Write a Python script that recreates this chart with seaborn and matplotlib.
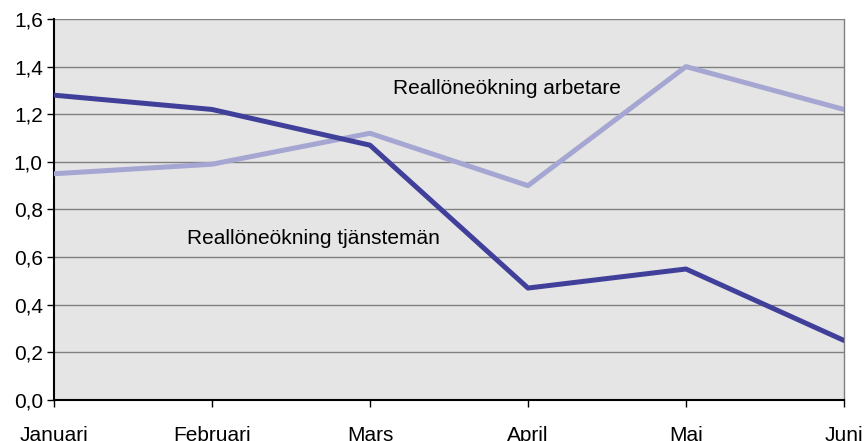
import pandas as pd
import matplotlib.pyplot as plt
import seaborn as sns

months = ["Januari", "Februari", "Mars", "April", "Maj", "Juni"]
tjanstemán = [1.28, 1.22, 1.07, 0.47, 0.55, 0.25]
arbetare = [0.95, 0.99, 1.12, 0.90, 1.40, 1.22]

df = pd.DataFrame({
    "Månad": months * 2,
    "Värde": tjanstemán + arbetare,
    "Serie": ["Reallöneökning tjänstemän"] * 6 + ["Reallöneökning arbetare"] * 6,
})
df["pos"] = list(range(6)) * 2

sns.set_style("white")
plt.rcParams["font.family"] = ["Liberation Sans", "DejaVu Sans"]
plt.rcParams["text.color"] = "black"
plt.rcParams["xtick.color"] = "black"
plt.rcParams["ytick.color"] = "black"

fig = plt.figure(figsize=(8.65, 4.41), dpi=100)
ax = fig.add_axes([0.0624, 0.093, 0.9133, 0.864])
ax.set_facecolor("#e5e5e5")

sns.lineplot(
    data=df, x="pos", y="Värde", hue="Serie",
    palette={"Reallöneökning tjänstemän": "#40409a", "Reallöneökning arbetare": "#a6a6d2"},
    hue_order=["Reallöneökning arbetare", "Reallöneökning tjänstemän"],
    linewidth=3.6, legend=False, ax=ax, zorder=3,
)

ax.set_xlim(0, 5)
ax.set_ylim(0, 1.6)
yticks = [i * 0.2 for i in range(9)]
ax.set_yticks(yticks)
ax.set_yticklabels([f"{v:.1f}".replace(".", ",") for v in yticks], fontsize=15)
ax.set_xticks(range(6))
ax.set_xticklabels(months, fontsize=15)
ax.yaxis.grid(True, color="#808080", linewidth=1)
ax.set_axisbelow(True)
ax.tick_params(axis="both", direction="out", length=5, width=1, left=True, bottom=True)
ax.tick_params(axis="x", pad=14)
ax.tick_params(axis="y", pad=3)
ax.set_xlabel("")
ax.set_ylabel("")

for side in ["left", "bottom"]:
    ax.spines[side].set_color("black")
    ax.spines[side].set_linewidth(1.5)
ax.spines["top"].set_visible(False)
ax.spines["right"].set_color("#808080")
ax.spines["right"].set_linewidth(1)

ax.text(2.146, 1.31, "Reallöneökning arbetare", fontsize=15, va="center", ha="left")
ax.text(0.842, 0.68, "Reallöneökning tjänstemän", fontsize=15, va="center", ha="left")

fig.savefig("out.png", dpi=100)
